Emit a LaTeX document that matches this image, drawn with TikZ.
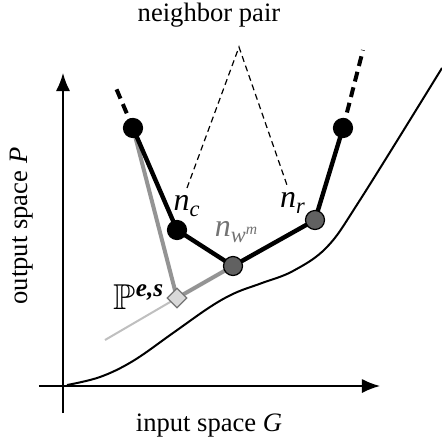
\documentclass[tikz,border=0pt]{standalone}
\usepackage{fontspec}
\setmainfont{Liberation Serif}
\usepackage{amssymb}
\usetikzlibrary{arrows.meta,shapes.geometric,backgrounds}
\begin{document}
\begin{tikzpicture}[x=0.5pt,y=-0.5pt,
  nd/.style={circle,draw=black,line width=0.6pt,minimum size=9.5pt,inner sep=0pt},
  blk/.style={nd,fill=black},
  dgr/.style={nd,fill=black!62},
  chain/.style={line width=2.2pt,black},
  chaindash/.style={line width=2pt,black,dash pattern=on 5pt off 3pt},
  pairdash/.style={line width=0.6pt,black,dash pattern=on 3pt off 2pt},
  proj/.style={line width=2pt,black!42},
  projthin/.style={line width=1pt,black!25},
  axis/.style={line width=0.75pt,-{Latex[length=9pt,width=7pt]}},
  lbl/.style={font=\fontsize{13.3}{16}\selectfont,inner sep=0pt},
  mlbl/.style={font=\fontsize{16}{19}\selectfont,inner sep=0pt}
]
\useasboundingbox (0,0) rectangle (442,447);

% axes
\coordinate (ytail) at (63,413);
\coordinate (yhead) at (63,73);
\coordinate (xtail) at (39,386);
\coordinate (xhead) at (380,386);
\draw[axis] (ytail) -- (yhead);
\draw[axis] (xtail) -- (xhead);

% curve
\draw[line width=1pt] plot[smooth,tension=0.6] coordinates
  {(67,385) (100,377) (133,361) (173,333) (210,307) (235,293) (262,283) (293,271) (327,247) (360,200) (442,68)};

% nodes
\node[blk] (tl) at (133,128) {};
\node[blk] (nc) at (177,230) {};
\node[dgr] (nw) at (233,266) {};
\node[dgr] (nr) at (315,220) {};
\node[blk] (tr) at (343,128) {};
\node[diamond,draw=black!55,fill=black!15,line width=0.6pt,minimum size=10pt,inner sep=0pt] (pp) at (177,298) {};

\coordinate (tlend) at (116,88);
\coordinate (trend) at (363,50);
\coordinate (apex) at (239,47);
\coordinate (lfoot) at (187,188);
\coordinate (rfoot) at (288,188);
\coordinate (projend) at (105,340);

\begin{scope}[on background layer]
  \draw[projthin] (pp.center) -- (projend);
  \draw[proj] (tl.center) -- (pp.center);
  \draw[proj] (pp.center) -- (nw.center);
  \draw[chain] (tl.center) -- (nc.center) -- (nw.center) -- (nr.center) -- (tr.center);
  \draw[chaindash] (tl.center) -- (tlend);
  \draw[chaindash] (tr.center) -- (trend);
\end{scope}
\draw[pairdash] (lfoot) -- (apex) -- (rfoot);

% labels
\node[lbl] (title) at (209,15) {neighbor pair};
\node[lbl] (xlab) at (209,426) {input space \textit{G}};
\node[lbl,rotate=90] (ylab) at (22,226) {output space \textit{P}};
\node[mlbl] (lnc) at (187,206) {\textit{n}\textsubscript{\textit{c}}};
\node[mlbl,text=black!55] (lnw) at (237,232) {\textit{n}\textsubscript{\textit{w}\textsuperscript{\textit{m}}}};
\node[mlbl] (lnr) at (293,203) {\textit{n}\textsubscript{\textit{r}}};
\node[mlbl,font=\fontsize{18}{20}\selectfont] (lp) at (139,297) {$\mathbb{P}$\textsuperscript{\textbf{\textit{e,s}}}};
\end{tikzpicture}
\end{document}
